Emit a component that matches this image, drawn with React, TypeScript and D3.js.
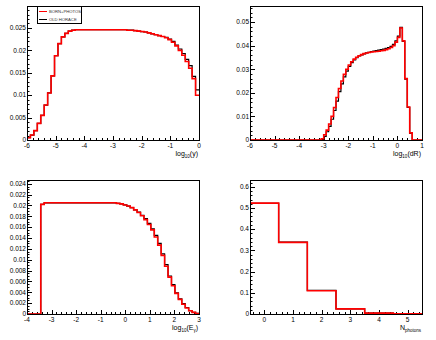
import React from "react";
import * as d3 from "d3";

// ---------- DATA ----------
// Panel 1: log10(y), 50 bins from -6 to 0
const p1Edges = [-6, 0];
const p1Red = [
  0.0005, 0.0011, 0.0021, 0.0037, 0.0055, 0.0078, 0.0105, 0.0143, 0.0188, 0.0215,
  0.0230, 0.0238, 0.0243, 0.0245, 0.0246, 0.0246, 0.0246, 0.0246, 0.0246, 0.0246,
  0.0246, 0.0246, 0.0246, 0.0246, 0.0246, 0.0246, 0.0246, 0.0246, 0.0246, 0.0245,
  0.0245, 0.0244, 0.0243, 0.0242, 0.0241, 0.0239, 0.0237, 0.0235, 0.0233, 0.0231,
  0.0228, 0.0224, 0.0218, 0.0210, 0.0200, 0.0189, 0.0175, 0.0160, 0.0137, 0.0100,
];
const p1Black = [
  0.0005, 0.0011, 0.0021, 0.0037, 0.0055, 0.0078, 0.0105, 0.0143, 0.0188, 0.0215,
  0.0230, 0.0238, 0.0243, 0.0245, 0.0246, 0.0246, 0.0246, 0.0246, 0.0246, 0.0246,
  0.0246, 0.0246, 0.0246, 0.0246, 0.0246, 0.0246, 0.0246, 0.0246, 0.0246, 0.0245,
  0.0245, 0.0244, 0.0243, 0.0242, 0.0241, 0.0239, 0.0237, 0.0235, 0.0233, 0.0231,
  0.0229, 0.0225, 0.0220, 0.0212, 0.0203, 0.0193, 0.0180, 0.0166, 0.0142, 0.0112,
];
const p1YTicks = [0, 0.005, 0.01, 0.015, 0.02, 0.025];
const p1XTicks = [-6, -5, -4, -3, -2, -1, 0];

// Panel 2: log10(dR), 70 bins from -6 to 1
const p2Edges = [-6, 1];
const p2Red = [
  0, 0, 0, 0, 0, 0, 0, 0, 0, 0,
  0, 0, 0, 0, 0, 0, 0, 0, 0, 0,
  0, 0, 0, 0, 0, 0, 0, 0, 0, 0.0005,
  0.0022, 0.0042, 0.0068, 0.0100, 0.0138, 0.0180, 0.0218, 0.0250, 0.0278, 0.0300,
  0.0318, 0.0332, 0.0343, 0.0351, 0.0357, 0.0362, 0.0366, 0.0369, 0.0371, 0.0373,
  0.0374, 0.0375, 0.0376, 0.0378, 0.0380, 0.0383, 0.0387, 0.0392, 0.0400, 0.0415,
  0.0435, 0.0475, 0.0420, 0.0260, 0.0140, 0.0030, 0, 0, 0, 0,
];
const p2Black = [
  0, 0, 0, 0, 0, 0, 0, 0, 0, 0,
  0, 0, 0, 0, 0, 0, 0, 0, 0, 0,
  0, 0, 0, 0, 0, 0, 0, 0, 0, 0.0002,
  0.0015, 0.0035, 0.0058, 0.0088, 0.0125, 0.0165, 0.0205, 0.0238, 0.0268, 0.0292,
  0.0312, 0.0328, 0.0340, 0.0349, 0.0356, 0.0361, 0.0365, 0.0369, 0.0372, 0.0375,
  0.0377, 0.0379, 0.0381, 0.0383, 0.0385, 0.0388, 0.0392, 0.0397, 0.0405, 0.0420,
  0.0440, 0.0478, 0.0418, 0.0258, 0.0138, 0.0028, 0, 0, 0, 0,
];
const p2YTicks = [0, 0.01, 0.02, 0.03, 0.04, 0.05];
const p2XTicks = [-6, -5, -4, -3, -2, -1, 0, 1];

// Panel 3: log10(E_gamma), 50 bins from -4 to 3
const p3Edges = [-4, 3];
const p3Red = [
  0, 0, 0, 0, 0.0202, 0.0205, 0.0205, 0.0205, 0.0205, 0.0205,
  0.0205, 0.0205, 0.0205, 0.0205, 0.0205, 0.0205, 0.0205, 0.0205, 0.0205, 0.0205,
  0.0205, 0.0205, 0.0205, 0.0205, 0.0205, 0.0205, 0.0204, 0.0203, 0.0201, 0.0199,
  0.0196, 0.0192, 0.0187, 0.0181, 0.0174, 0.0165, 0.0155, 0.0142, 0.0127, 0.0108,
  0.0088, 0.0068, 0.0052, 0.0038, 0.0027, 0.0018, 0.0011, 0.0006, 0.0003, 0.0001,
];
const p3Black = [
  0, 0, 0, 0, 0.0202, 0.0205, 0.0205, 0.0205, 0.0205, 0.0205,
  0.0205, 0.0205, 0.0205, 0.0205, 0.0205, 0.0205, 0.0205, 0.0205, 0.0205, 0.0205,
  0.0205, 0.0205, 0.0205, 0.0205, 0.0205, 0.0205, 0.0204, 0.0203, 0.0201, 0.0199,
  0.0196, 0.0192, 0.0188, 0.0182, 0.0176, 0.0167, 0.0157, 0.0145, 0.0130, 0.0111,
  0.0091, 0.0070, 0.0054, 0.0039, 0.0028, 0.0019, 0.0012, 0.0006, 0.0003, 0.0001,
];
const p3YTicks = [0, 0.002, 0.004, 0.006, 0.008, 0.01, 0.012, 0.014, 0.016, 0.018, 0.02, 0.022, 0.024];
const p3XTicks = [-4, -3, -2, -1, 0, 1, 2, 3];

// Panel 4: N_photons, 6 bins from -0.5 to 5.5
const p4Edges = [-0.5, 5.5];
const p4Red = [0.523, 0.338, 0.110, 0.024, 0.004, 0.0008];
const p4Black = [0.522, 0.339, 0.111, 0.024, 0.004, 0.0008];
const p4YTicks = [0, 0.1, 0.2, 0.3, 0.4, 0.5, 0.6];
const p4XTicks = [0, 1, 2, 3, 4, 5];

const legendLabels = ["BORN+PHOTOS", "OLD HORACE"];

// ---------- COMPONENTS ----------
const FONT = "'Liberation Sans', Arial, Helvetica, sans-serif";

type PanelProps = {
  left: number;
  top: number;
  width: number;
  height: number;
  xRange: number[];
  yMax: number;
  red: number[];
  black: number[];
  xTicks: number[];
  yTicks: number[];
  xMinor: number;
  yMinor: number;
  title: React.ReactNode;
  legend?: boolean;
};

function histPath(values: number[], x0: number, x1: number, xs: d3.ScaleLinear<number, number>, ys: d3.ScaleLinear<number, number>) {
  const n = values.length;
  const w = (x1 - x0) / n;
  const pts: [number, number][] = [];
  for (let i = 0; i < n; i++) {
    const a = x0 + i * w;
    const b = x0 + (i + 1) * w;
    pts.push([xs(a), ys(values[i])]);
    pts.push([xs(b), ys(values[i])]);
  }
  return d3.line()(pts) || "";
}

function Panel(p: PanelProps) {
  const xs = d3.scaleLinear().domain(p.xRange).range([p.left, p.left + p.width]);
  const ys = d3.scaleLinear().domain([0, p.yMax]).range([p.top + p.height, p.top]);
  const bottom = p.top + p.height;
  const xMinorTicks = d3
    .range(Math.ceil(p.xRange[0] / p.xMinor - 1e-6), Math.floor(p.xRange[1] / p.xMinor + 1e-6) + 1)
    .map((k) => k * p.xMinor);
  const yMinorTicks = d3
    .range(0, Math.floor(p.yMax / p.yMinor + 1e-6) + 1)
    .map((k) => k * p.yMinor);
  const fmt = (v: number) => String(+v.toFixed(5));
  return (
    <g>
      <rect x={p.left + 0.5} y={p.top + 0.5} width={p.width} height={p.height} fill="white" stroke="none" />
      {/* minor ticks */}
      {yMinorTicks.map((v, i) => (
        <line key={"ym" + i} x1={p.left} x2={p.left + 2.5} y1={Math.round(ys(v)) + 0.5} y2={Math.round(ys(v)) + 0.5} stroke="#000" strokeWidth={1} />
      ))}
      {p.yTicks.map((v, i) => (
        <line key={"yM" + i} x1={p.left} x2={p.left + 5} y1={Math.round(ys(v)) + 0.5} y2={Math.round(ys(v)) + 0.5} stroke="#000" strokeWidth={1} />
      ))}
      {xMinorTicks.map((v, i) => (
        <line key={"xm" + i} x1={Math.round(xs(v)) + 0.5} x2={Math.round(xs(v)) + 0.5} y1={bottom} y2={bottom - 2} stroke="#000" strokeWidth={1} />
      ))}
      {p.xTicks.map((v, i) => (
        <line key={"xM" + i} x1={Math.round(xs(v)) + 0.5} x2={Math.round(xs(v)) + 0.5} y1={bottom} y2={bottom - 4} stroke="#000" strokeWidth={1} />
      ))}
      {/* histograms */}
      <path d={histPath(p.black, p.xRange[0], p.xRange[1], xs, ys)} fill="none" stroke="#000" strokeWidth={1.2} />
      <path d={histPath(p.red, p.xRange[0], p.xRange[1], xs, ys)} fill="none" stroke="#f00" strokeWidth={1.6} />
      {/* frame */}
      <rect x={p.left + 0.5} y={p.top + 0.5} width={p.width} height={p.height} fill="none" stroke="#000" strokeWidth={1} />
      {/* labels */}
      {p.yTicks.map((v, i) => (
        <text key={"yl" + i} x={p.left - 1} y={ys(v) + 2.3} textAnchor="end" fontSize={6.5} fontFamily={FONT} fill="#000">
          {fmt(v)}
        </text>
      ))}
      {p.xTicks.map((v, i) => (
        <text key={"xl" + i} x={xs(v)} y={bottom + 8} textAnchor="middle" fontSize={6.5} fontFamily={FONT} fill="#000">
          {fmt(v)}
        </text>
      ))}
      <text x={p.left + p.width - 1} y={bottom + 16} textAnchor="end" fontSize={7} fontFamily={FONT} fill="#000">
        {p.title}
      </text>
      {p.legend && (
        <g>
          <rect x={37.5} y={6.5} width={44} height={17} fill="white" stroke="#000" strokeWidth={1} />
          <line x1={39} x2={47} y1={11.5} y2={11.5} stroke="#f00" strokeWidth={1} />
          <text x={49} y={13} fontSize={4.2} fontFamily={FONT} fill="#333">{legendLabels[0]}</text>
          <line x1={39} x2={47} y1={19.5} y2={19.5} stroke="#000" strokeWidth={1} />
          <text x={49} y={21} fontSize={4.2} fontFamily={FONT} fill="#333">{legendLabels[1]}</text>
        </g>
      )}
    </g>
  );
}

export default function App() {
  const W = 172;
  const H = 134;
  return (
    <svg width={436} height={340} style={{ position: "fixed", left: 0, top: 0, background: "white" }}>
      <rect x={0} y={0} width={436} height={340} fill="white" />
      <Panel
        left={27} top={6} width={W} height={H}
        xRange={p1Edges} yMax={0.0299}
        red={p1Red} black={p1Black}
        xTicks={p1XTicks} yTicks={p1YTicks}
        xMinor={0.2} yMinor={0.001}
        legend
        title={<>log<tspan fontSize={4.5} dy={2}>10</tspan><tspan dy={-2}>(y)</tspan></>}
      />
      <Panel
        left={250} top={6} width={W} height={H}
        xRange={p2Edges} yMax={0.0568}
        red={p2Red} black={p2Black}
        xTicks={p2XTicks} yTicks={p2YTicks}
        xMinor={0.2} yMinor={0.002}
        title={<>log<tspan fontSize={4.5} dy={2}>10</tspan><tspan dy={-2}>(dR)</tspan></>}
      />
      <Panel
        left={27} top={180} width={W} height={H}
        xRange={p3Edges} yMax={0.0247}
        red={p3Red} black={p3Black}
        xTicks={p3XTicks} yTicks={p3YTicks}
        xMinor={0.2} yMinor={0.0005}
        title={<>log<tspan fontSize={4.5} dy={2}>10</tspan><tspan dy={-2}>(E</tspan><tspan fontSize={4.5} dy={2}>γ</tspan><tspan dy={-2}>)</tspan></>}
      />
      <Panel
        left={250} top={180} width={W} height={H}
        xRange={p4Edges} yMax={0.632}
        red={p4Red} black={p4Black}
        xTicks={p4XTicks} yTicks={p4YTicks}
        xMinor={0.2} yMinor={0.02}
        title={<>N<tspan fontSize={4.5} dy={2}>photons</tspan></>}
      />
    </svg>
  );
}
